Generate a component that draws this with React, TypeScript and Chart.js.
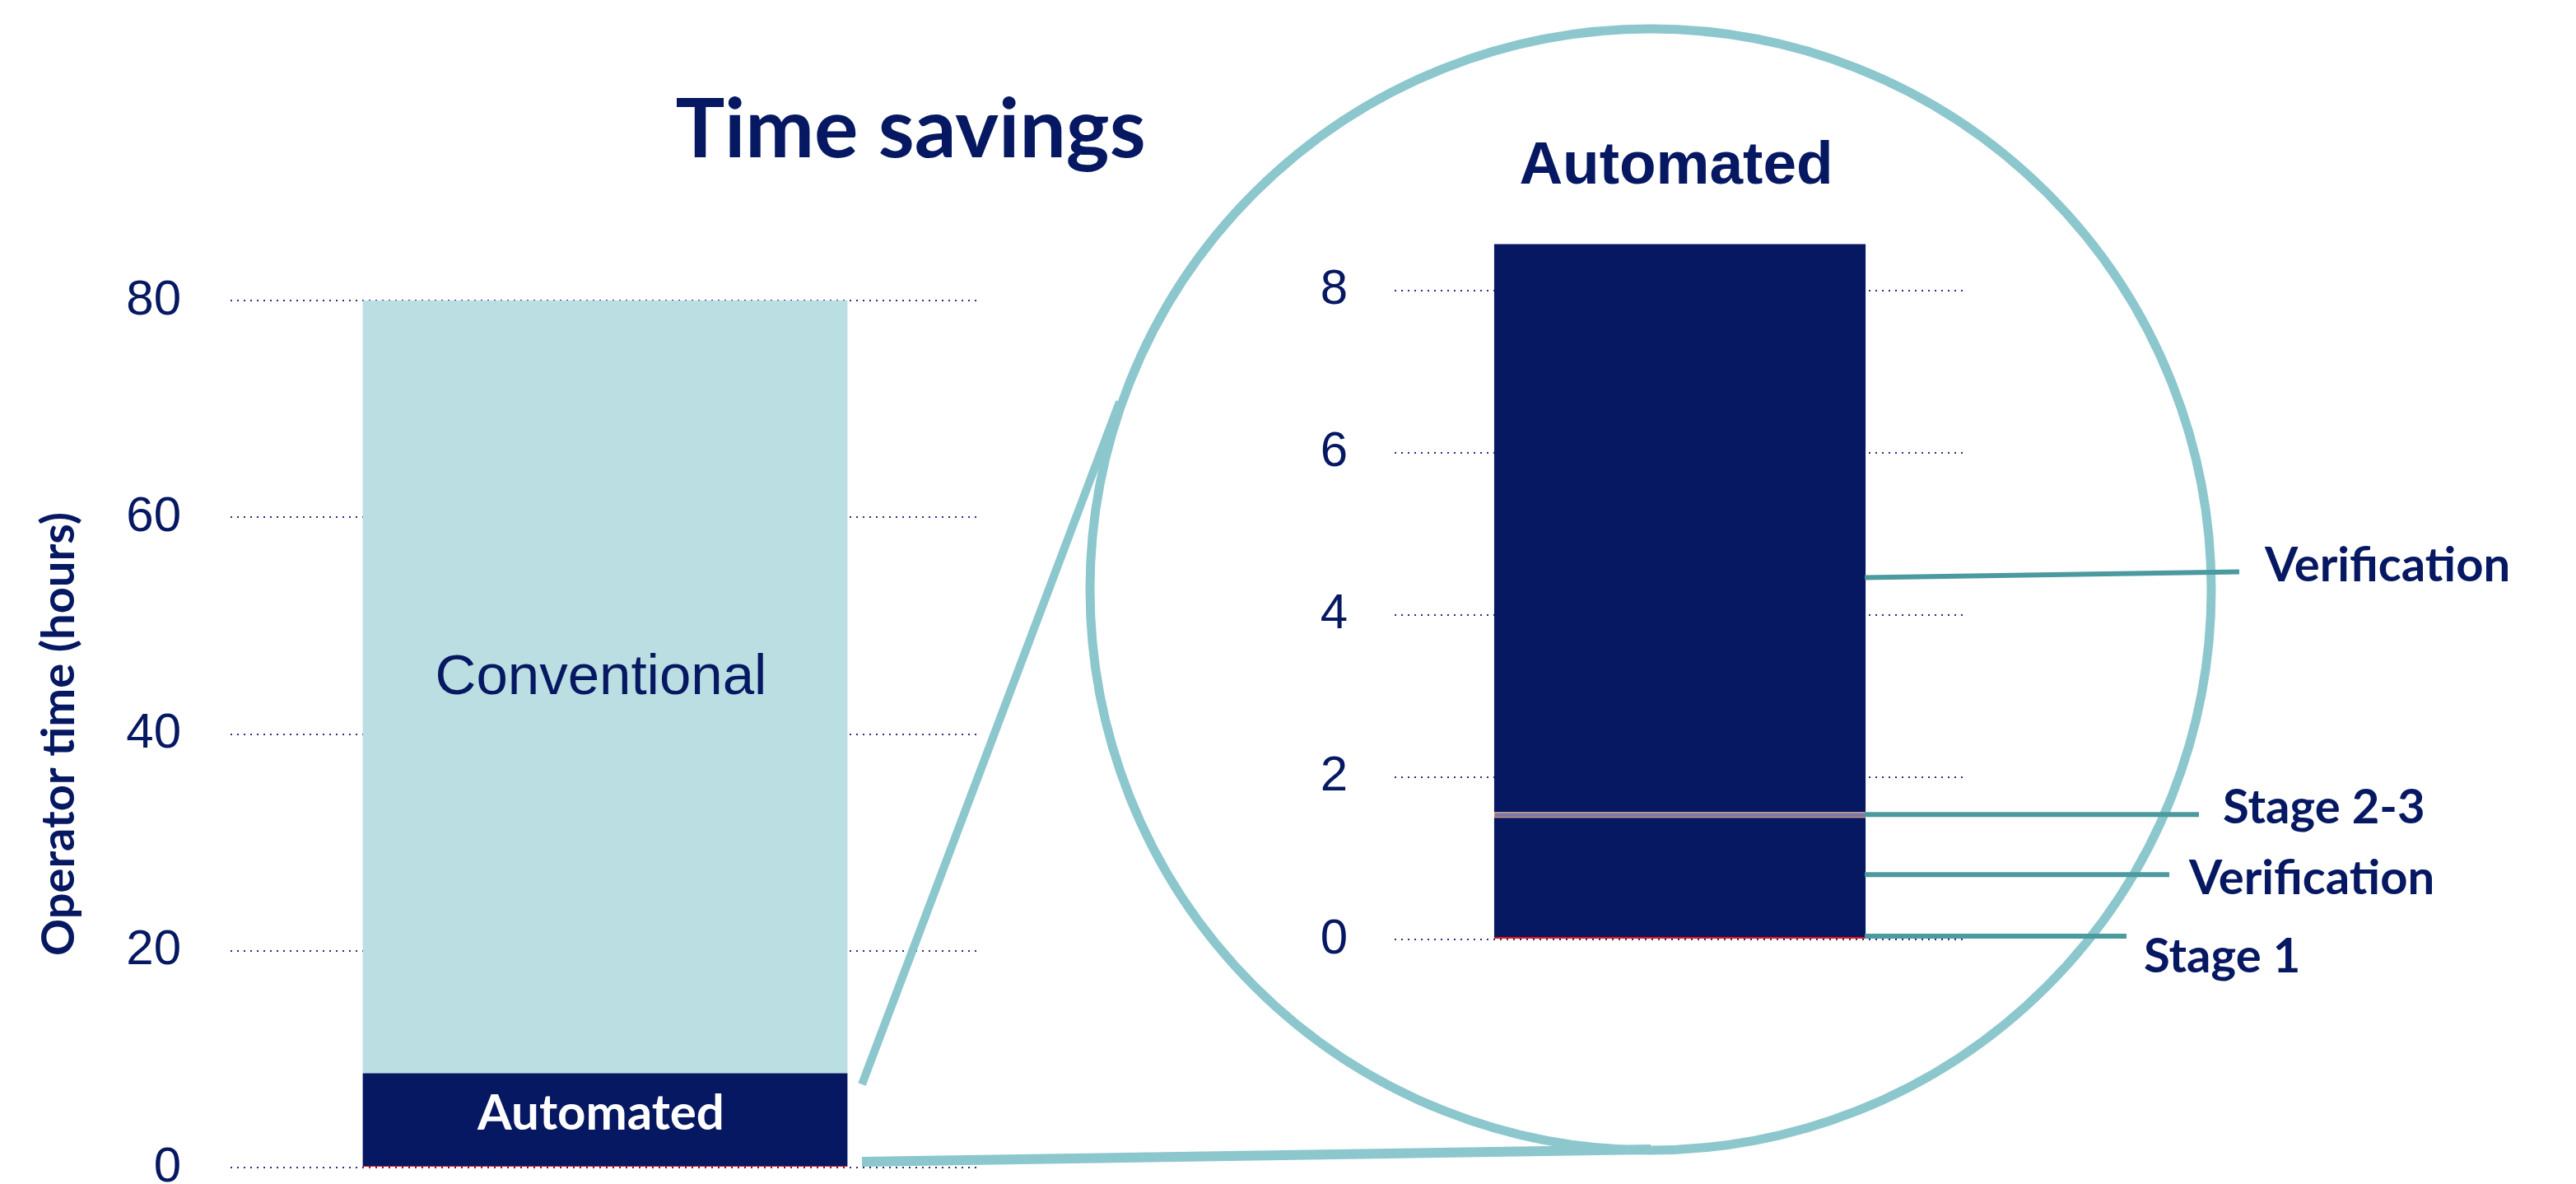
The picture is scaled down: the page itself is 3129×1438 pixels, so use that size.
import React, { useEffect, useRef } from 'react';
import { Chart, registerables } from 'chart.js';

Chart.register(...registerables);

const W = 3129;
const H = 1438;

// ---------- data ----------
const overviewCategories = ['Operator time'];
const conventionalHours = [80];
const automatedSegmentLabels = ['Stage 1', 'Verification', 'Stage 2-3', 'Verification'];
const automatedSegmentHours = [0.03, 1.47, 0.07, 7.0];
const overviewTicks = [0, 20, 40, 60, 80];
const zoomTicks = [0, 2, 4, 6, 8];
const calloutLabels = ['Stage 1', 'Verification', 'Stage 2-3', 'Verification'];
const calloutStartValues = [0.04, 0.8, 1.54, 4.46];
const calloutEndValues = [0.04, 0.8, 1.54, 4.53];

// ---------- styles ----------
const NAVY = '#061862';
const LIGHT = '#BADEE2';
const RED = '#F01010';
const RING = '#8DC7CE';
const CALLOUT = '#4B9A9F';
const GRID = '#27307e';
const CALIBRI = 'Lato, "Open Sans", sans-serif';
const ARIAL = '"Liberation Sans", Arial, sans-serif';

const automatedTotal = automatedSegmentHours.reduce((a, b) => a + b, 0);

const overviewLabelsPlugin = {
  id: 'overviewLabels',
  afterDatasetsDraw(chart: any) {
    const ctx = chart.ctx;
    const m0 = chart.getDatasetMeta(0).data[0];
    const m1 = chart.getDatasetMeta(1).data[0];
    const m2 = chart.getDatasetMeta(2).data[0];
    ctx.save();
    ctx.textAlign = 'center';
    ctx.textBaseline = 'alphabetic';
    // Conventional
    ctx.fillStyle = NAVY;
    ctx.font = `69px ${ARIAL}`;
    const cMid = (m2.y + m2.base) / 2;
    ctx.fillText('Conventional', m2.x - 5, cMid + 10);
    // Automated
    ctx.fillStyle = '#ffffff';
    ctx.font = `bold 60px ${CALIBRI}`;
    const aMid = (m1.y + m0.base) / 2;
    ctx.fillText('Automated', m1.x - 5, aMid + 12);
    // Title
    ctx.fillStyle = NAVY;
    ctx.font = `bold 100px ${CALIBRI}`;
    ctx.fillText('Time savings', 1106, 191);
    ctx.restore();
  },
};

const zoomDecorPlugin = {
  id: 'zoomDecor',
  afterDraw(chart: any) {
    const ctx = chart.ctx;
    const yScale = chart.scales.y;
    const bar = chart.getDatasetMeta(3).data[0];
    const barRight = bar.x + bar.width / 2;
    ctx.save();
    // magnifier ring
    ctx.strokeStyle = RING;
    ctx.lineWidth = 11;
    ctx.beginPath();
    ctx.arc(2005, 716, 681, 0, Math.PI * 2);
    ctx.stroke();
    // connectors
    ctx.lineWidth = 10;
    ctx.lineCap = 'butt';
    ctx.beginPath();
    ctx.moveTo(1047, 1317);
    ctx.lineTo(1360, 488);
    ctx.stroke();
    ctx.lineWidth = 12;
    ctx.beginPath();
    ctx.moveTo(1047, 1411);
    ctx.lineTo(2005, 1396);
    ctx.stroke();
    // callouts
    const lineEndX = [2583, 2635, 2671, 2720];
    const textX = [2604, 2659, 2700, 2751];
    const textDy = [44, 24, 11, 11];
    ctx.strokeStyle = CALLOUT;
    ctx.lineWidth = 6;
    ctx.fillStyle = NAVY;
    ctx.font = `bold 58px ${CALIBRI}`;
    ctx.textAlign = 'left';
    ctx.textBaseline = 'alphabetic';
    calloutLabels.forEach((lab, i) => {
      const y0 = yScale.getPixelForValue(calloutStartValues[i]);
      const y1 = yScale.getPixelForValue(calloutEndValues[i]);
      ctx.beginPath();
      ctx.moveTo(barRight - 1, y0);
      ctx.lineTo(lineEndX[i], y1);
      ctx.stroke();
      ctx.fillText(lab, textX[i], y1 + textDy[i]);
    });
    // zoom title
    ctx.textAlign = 'center';
    ctx.font = `bold 73px ${ARIAL}`;
    ctx.fillText('Automated', 2036, 223);
    ctx.restore();
  },
};

export default function App() {
  const leftRef = useRef<HTMLCanvasElement>(null);
  const rightRef = useRef<HTMLCanvasElement>(null);

  useEffect(() => {
    if (!leftRef.current || !rightRef.current) return;

    const left = new Chart(leftRef.current, {
      type: 'bar',
      data: {
        labels: overviewCategories,
        datasets: [
          {
            label: automatedSegmentLabels[0],
            data: [automatedSegmentHours[0]],
            backgroundColor: RED,
            minBarLength: 2,
          },
          {
            label: 'Automated',
            data: [automatedTotal - automatedSegmentHours[0]],
            backgroundColor: NAVY,
          },
          {
            label: 'Conventional',
            data: [conventionalHours[0] - automatedTotal],
            backgroundColor: LIGHT,
          },
        ].map((d) => ({ ...d, barPercentage: 0.647, categoryPercentage: 1 })),
      },
      options: {
        responsive: false,
        animation: false,
        devicePixelRatio: 1,
        layout: { padding: { left: 0, top: 365, right: W - 1190, bottom: H - 1418 } },
        plugins: { legend: { display: false }, tooltip: { enabled: false } },
        scales: {
          x: { display: false, stacked: true },
          y: {
            stacked: true,
            min: 0,
            max: 80,
            afterBuildTicks: (s: any) => {
              s.ticks = overviewTicks.map((v) => ({ value: v }));
            },
            afterFit: (s: any) => {
              s.width = 280;
              s.paddingTop = 0;
              s.paddingBottom = 0;
            },
            ticks: { font: { family: ARIAL, size: 60 }, color: NAVY, padding: 60 },
            grid: { color: GRID, lineWidth: 2, drawTicks: false },
            border: { display: false, dash: [2, 6] },
            title: {
              display: true,
              text: 'Operator time (hours)',
              font: { family: CALIBRI, weight: 'bold', size: 56 },
              color: NAVY,
              padding: { top: 38, bottom: 0 },
            },
          },
        },
      } as any,
      plugins: [overviewLabelsPlugin],
    });

    const zoomColors = [RED, NAVY, '#7B79AA', NAVY];
    const right = new Chart(rightRef.current, {
      type: 'bar',
      data: {
        labels: overviewCategories,
        datasets: automatedSegmentLabels.map((lab, i) => ({
          label: lab,
          data: [automatedSegmentHours[i]],
          backgroundColor: zoomColors[i],
          borderColor: i === 2 ? '#E87722' : zoomColors[i],
          borderWidth: i === 2 ? 1 : 0,
          borderSkipped: false,
          barPercentage: 0.651,
          categoryPercentage: 1,
        })),
      },
      options: {
        responsive: false,
        animation: false,
        devicePixelRatio: 1,
        layout: { padding: { left: 0, top: 254, right: W - 2387, bottom: H - 1141 } },
        plugins: { legend: { display: false }, tooltip: { enabled: false } },
        scales: {
          x: { display: false, stacked: true },
          y: {
            stacked: true,
            min: 0,
            max: 9,
            afterBuildTicks: (s: any) => {
              s.ticks = zoomTicks.map((v) => ({ value: v }));
            },
            afterFit: (s: any) => {
              s.width = 1694;
              s.paddingTop = 0;
              s.paddingBottom = 0;
            },
            ticks: { font: { family: ARIAL, size: 60 }, color: NAVY, padding: 57 },
            grid: { color: GRID, lineWidth: 2, drawTicks: false },
            border: { display: false, dash: [2, 6] },
          },
        },
      } as any,
      plugins: [zoomDecorPlugin],
    });

    return () => {
      left.destroy();
      right.destroy();
    };
  }, []);

  return (
    <div style={{ position: 'absolute', left: 0, top: 0, width: W, height: H, background: '#ffffff', overflow: 'hidden' }}>
      <canvas ref={leftRef} width={W} height={H} style={{ position: 'absolute', left: 0, top: 0 }} />
      <canvas ref={rightRef} width={W} height={H} style={{ position: 'absolute', left: 0, top: 0 }} />
    </div>
  );
}
